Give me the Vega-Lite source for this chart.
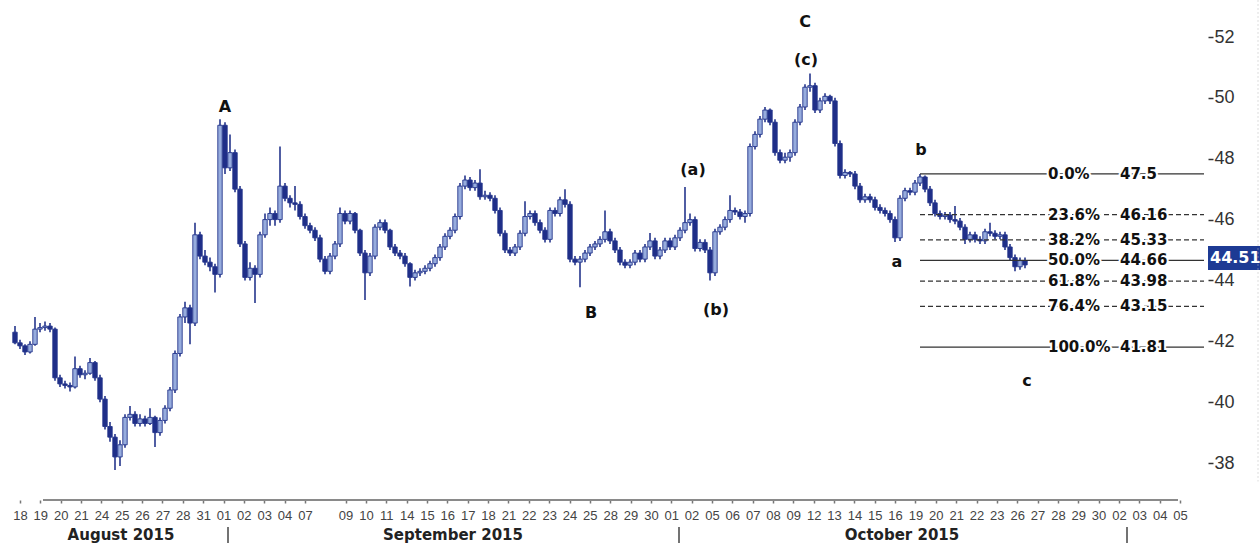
{
"$schema": "https://vega.github.io/schema/vega-lite/v6.json",
"width": 1208, "height": 500,
"autosize": {"type": "none"},
"padding": {"left": 0, "top": 0, "right": 52, "bottom": 43},
"background": "white",
"config": {"view": {"stroke": null}, "font": "Liberation Sans"},
"datasets": {
"candles": [
{"k":0,"o":42.3,"h":42.5,"l":41.9,"c":41.95},{"k":1,"o":41.95,"h":42.05,"l":41.75,"c":41.85},{"k":2,"o":41.85,"h":41.9,"l":41.55,"c":41.65},{"k":3,"o":41.65,"h":42.0,"l":41.6,"c":41.9},{"k":4,"o":41.9,"h":42.8,"l":41.85,"c":42.4},{"k":5,"o":42.4,"h":42.6,"l":42.3,"c":42.45},{"k":6,"o":42.45,"h":42.65,"l":42.35,"c":42.5},{"k":7,"o":42.5,"h":42.6,"l":42.3,"c":42.4},{"k":8,"o":42.4,"h":42.45,"l":40.7,"c":40.8},{"k":9,"o":40.8,"h":40.9,"l":40.5,"c":40.6},
{"k":10,"o":40.6,"h":40.7,"l":40.45,"c":40.55},{"k":11,"o":40.55,"h":40.65,"l":40.35,"c":40.5},{"k":12,"o":40.5,"h":41.5,"l":40.45,"c":41.1},{"k":13,"o":41.1,"h":41.2,"l":40.8,"c":40.9},{"k":14,"o":40.9,"h":41.05,"l":40.75,"c":40.95},{"k":15,"o":40.95,"h":41.45,"l":40.9,"c":41.3},{"k":16,"o":41.3,"h":41.35,"l":40.7,"c":40.8},{"k":17,"o":40.8,"h":40.9,"l":40.0,"c":40.1},{"k":18,"o":40.1,"h":40.2,"l":39.1,"c":39.2},{"k":19,"o":39.2,"h":39.35,"l":38.7,"c":38.85},
{"k":20,"o":38.85,"h":38.95,"l":37.77,"c":38.2},{"k":21,"o":38.2,"h":38.75,"l":37.9,"c":38.6},{"k":22,"o":38.6,"h":39.6,"l":38.5,"c":39.5},{"k":23,"o":39.5,"h":39.87,"l":39.4,"c":39.6},{"k":24,"o":39.6,"h":39.7,"l":39.2,"c":39.3},{"k":25,"o":39.3,"h":39.6,"l":39.2,"c":39.45},{"k":26,"o":39.45,"h":39.55,"l":39.2,"c":39.3},{"k":27,"o":39.3,"h":39.8,"l":39.25,"c":39.5},{"k":28,"o":39.5,"h":39.55,"l":38.53,"c":39.0},{"k":29,"o":39.0,"h":39.5,"l":38.9,"c":39.4},
{"k":30,"o":39.4,"h":39.9,"l":39.3,"c":39.8},{"k":31,"o":39.8,"h":40.5,"l":39.7,"c":40.4},{"k":32,"o":40.4,"h":41.7,"l":40.3,"c":41.6},{"k":33,"o":41.6,"h":42.9,"l":41.5,"c":42.8},{"k":34,"o":42.8,"h":43.3,"l":42.6,"c":43.1},{"k":35,"o":43.1,"h":43.2,"l":41.9,"c":42.6},{"k":36,"o":42.6,"h":45.9,"l":42.5,"c":45.5},{"k":37,"o":45.5,"h":45.6,"l":44.7,"c":44.8},{"k":38,"o":44.8,"h":45.0,"l":44.5,"c":44.6},{"k":39,"o":44.6,"h":44.75,"l":44.3,"c":44.45},
{"k":40,"o":44.45,"h":44.55,"l":43.6,"c":44.2},{"k":41,"o":44.2,"h":49.3,"l":44.1,"c":49.1},{"k":42,"o":49.1,"h":49.2,"l":47.5,"c":47.7},{"k":43,"o":47.7,"h":48.8,"l":47.6,"c":48.2},{"k":44,"o":48.2,"h":48.3,"l":46.9,"c":47.0},{"k":45,"o":47.0,"h":47.1,"l":45.1,"c":45.2},{"k":46,"o":45.2,"h":45.3,"l":44.0,"c":44.1},{"k":47,"o":44.1,"h":44.6,"l":44.0,"c":44.4},{"k":48,"o":44.4,"h":44.5,"l":43.26,"c":44.2},{"k":49,"o":44.2,"h":45.6,"l":44.1,"c":45.5},
{"k":50,"o":45.5,"h":46.2,"l":45.4,"c":46.0},{"k":51,"o":46.0,"h":46.4,"l":45.8,"c":46.2},{"k":52,"o":46.2,"h":46.3,"l":45.8,"c":46.0},{"k":53,"o":46.0,"h":48.4,"l":45.9,"c":47.1},{"k":54,"o":47.1,"h":47.2,"l":46.6,"c":46.7},{"k":55,"o":46.7,"h":46.8,"l":46.4,"c":46.55},{"k":56,"o":46.55,"h":47.1,"l":46.3,"c":46.5},{"k":57,"o":46.5,"h":46.6,"l":46.0,"c":46.1},{"k":58,"o":46.1,"h":46.2,"l":45.7,"c":45.8},{"k":59,"o":45.8,"h":45.9,"l":45.55,"c":45.65},
{"k":60,"o":45.65,"h":45.75,"l":45.3,"c":45.4},{"k":61,"o":45.4,"h":45.5,"l":44.6,"c":44.7},{"k":62,"o":44.7,"h":44.8,"l":44.2,"c":44.3},{"k":63,"o":44.3,"h":44.9,"l":44.2,"c":44.8},{"k":64,"o":44.8,"h":45.3,"l":44.7,"c":45.2},{"k":65,"o":45.2,"h":46.4,"l":45.1,"c":46.2},{"k":66,"o":46.2,"h":46.3,"l":45.85,"c":45.95},{"k":67,"o":45.95,"h":46.3,"l":45.85,"c":46.2},{"k":68,"o":46.2,"h":46.25,"l":45.55,"c":45.65},{"k":69,"o":45.65,"h":45.7,"l":44.8,"c":44.9},
{"k":70,"o":44.9,"h":45.0,"l":43.36,"c":44.25},{"k":71,"o":44.25,"h":44.9,"l":44.15,"c":44.8},{"k":72,"o":44.8,"h":45.85,"l":44.7,"c":45.75},{"k":73,"o":45.75,"h":46.0,"l":45.65,"c":45.9},{"k":74,"o":45.9,"h":46.0,"l":45.55,"c":45.65},{"k":75,"o":45.65,"h":45.7,"l":45.0,"c":45.1},{"k":76,"o":45.1,"h":45.2,"l":44.8,"c":44.9},{"k":77,"o":44.9,"h":45.0,"l":44.7,"c":44.8},{"k":78,"o":44.8,"h":44.9,"l":44.45,"c":44.55},{"k":79,"o":44.55,"h":44.6,"l":43.8,"c":44.1},
{"k":80,"o":44.1,"h":44.35,"l":44.0,"c":44.25},{"k":81,"o":44.25,"h":44.4,"l":44.15,"c":44.3},{"k":82,"o":44.3,"h":44.5,"l":44.2,"c":44.4},{"k":83,"o":44.4,"h":44.65,"l":44.3,"c":44.55},{"k":84,"o":44.55,"h":44.85,"l":44.45,"c":44.75},{"k":85,"o":44.75,"h":45.2,"l":44.65,"c":45.1},{"k":86,"o":45.1,"h":45.55,"l":45.0,"c":45.45},{"k":87,"o":45.45,"h":45.75,"l":45.35,"c":45.65},{"k":88,"o":45.65,"h":46.2,"l":45.55,"c":46.1},{"k":89,"o":46.1,"h":47.2,"l":46.0,"c":47.1},
{"k":90,"o":47.1,"h":47.45,"l":47.0,"c":47.3},{"k":91,"o":47.3,"h":47.4,"l":46.95,"c":47.05},{"k":92,"o":47.05,"h":47.3,"l":46.95,"c":47.2},{"k":93,"o":47.2,"h":47.65,"l":46.65,"c":46.75},{"k":94,"o":46.75,"h":46.95,"l":46.65,"c":46.8},{"k":95,"o":46.8,"h":46.9,"l":46.6,"c":46.7},{"k":96,"o":46.7,"h":46.8,"l":46.2,"c":46.3},{"k":97,"o":46.3,"h":46.4,"l":45.45,"c":45.55},{"k":98,"o":45.55,"h":45.65,"l":44.9,"c":45.0},{"k":99,"o":45.0,"h":45.1,"l":44.8,"c":44.9},
{"k":100,"o":44.9,"h":45.2,"l":44.8,"c":45.1},{"k":101,"o":45.1,"h":45.65,"l":45.0,"c":45.55},{"k":102,"o":45.55,"h":46.6,"l":45.45,"c":46.1},{"k":103,"o":46.1,"h":46.3,"l":46.0,"c":46.2},{"k":104,"o":46.2,"h":46.3,"l":45.8,"c":45.9},{"k":105,"o":45.9,"h":46.0,"l":45.55,"c":45.65},{"k":106,"o":45.65,"h":45.75,"l":45.25,"c":45.35},{"k":107,"o":45.35,"h":46.4,"l":45.25,"c":46.3},{"k":108,"o":46.3,"h":46.4,"l":46.1,"c":46.2},{"k":109,"o":46.2,"h":46.75,"l":46.1,"c":46.65},
{"k":110,"o":46.65,"h":47.0,"l":46.4,"c":46.5},{"k":111,"o":46.5,"h":46.6,"l":44.6,"c":44.7},{"k":112,"o":44.7,"h":44.8,"l":44.5,"c":44.6},{"k":113,"o":44.6,"h":44.8,"l":43.78,"c":44.7},{"k":114,"o":44.7,"h":45.0,"l":44.6,"c":44.9},{"k":115,"o":44.9,"h":45.2,"l":44.8,"c":45.1},{"k":116,"o":45.1,"h":45.3,"l":45.0,"c":45.2},{"k":117,"o":45.2,"h":45.45,"l":45.1,"c":45.35},{"k":118,"o":45.35,"h":46.3,"l":45.25,"c":45.6},{"k":119,"o":45.6,"h":45.7,"l":45.2,"c":45.3},
{"k":120,"o":45.3,"h":45.4,"l":44.9,"c":45.0},{"k":121,"o":45.0,"h":45.1,"l":44.5,"c":44.6},{"k":122,"o":44.6,"h":44.7,"l":44.4,"c":44.5},{"k":123,"o":44.5,"h":44.7,"l":44.4,"c":44.6},{"k":124,"o":44.6,"h":45.0,"l":44.5,"c":44.9},{"k":125,"o":44.9,"h":45.0,"l":44.6,"c":44.7},{"k":126,"o":44.7,"h":45.2,"l":44.6,"c":45.1},{"k":127,"o":45.1,"h":45.56,"l":45.0,"c":45.3},{"k":128,"o":45.3,"h":45.4,"l":44.7,"c":44.8},{"k":129,"o":44.8,"h":45.1,"l":44.7,"c":45.0},
{"k":130,"o":45.0,"h":45.4,"l":44.9,"c":45.3},{"k":131,"o":45.3,"h":45.4,"l":45.0,"c":45.1},{"k":132,"o":45.1,"h":45.5,"l":45.0,"c":45.4},{"k":133,"o":45.4,"h":45.75,"l":45.3,"c":45.65},{"k":134,"o":45.65,"h":47.07,"l":45.55,"c":45.9},{"k":135,"o":45.9,"h":46.2,"l":45.8,"c":46.0},{"k":136,"o":46.0,"h":46.1,"l":44.95,"c":45.05},{"k":137,"o":45.05,"h":45.35,"l":44.95,"c":45.25},{"k":138,"o":45.25,"h":45.35,"l":44.9,"c":45.0},{"k":139,"o":45.0,"h":45.1,"l":44.0,"c":44.25},
{"k":140,"o":44.25,"h":45.7,"l":44.15,"c":45.6},{"k":141,"o":45.6,"h":45.85,"l":45.5,"c":45.75},{"k":142,"o":45.75,"h":46.1,"l":45.65,"c":46.0},{"k":143,"o":46.0,"h":46.8,"l":45.9,"c":46.3},{"k":144,"o":46.3,"h":46.4,"l":46.15,"c":46.25},{"k":145,"o":46.25,"h":46.35,"l":46.0,"c":46.1},{"k":146,"o":46.1,"h":46.3,"l":45.9,"c":46.2},{"k":147,"o":46.2,"h":48.5,"l":46.1,"c":48.4},{"k":148,"o":48.4,"h":48.9,"l":48.3,"c":48.8},{"k":149,"o":48.8,"h":49.4,"l":48.7,"c":49.3},
{"k":150,"o":49.3,"h":49.7,"l":49.2,"c":49.6},{"k":151,"o":49.6,"h":49.65,"l":49.1,"c":49.2},{"k":152,"o":49.2,"h":49.3,"l":48.1,"c":48.2},{"k":153,"o":48.2,"h":48.3,"l":47.85,"c":47.95},{"k":154,"o":47.95,"h":48.2,"l":47.85,"c":48.05},{"k":155,"o":48.05,"h":48.3,"l":47.9,"c":48.2},{"k":156,"o":48.2,"h":49.3,"l":48.1,"c":49.2},{"k":157,"o":49.2,"h":49.8,"l":49.1,"c":49.7},{"k":158,"o":49.7,"h":50.45,"l":49.6,"c":50.35},{"k":159,"o":50.35,"h":50.8,"l":50.2,"c":50.4},
{"k":160,"o":50.4,"h":50.5,"l":49.5,"c":49.6},{"k":161,"o":49.6,"h":50.0,"l":49.5,"c":49.9},{"k":162,"o":49.9,"h":50.15,"l":49.8,"c":50.05},{"k":163,"o":50.05,"h":50.1,"l":49.8,"c":49.9},{"k":164,"o":49.9,"h":50.0,"l":48.4,"c":48.5},{"k":165,"o":48.5,"h":48.6,"l":47.35,"c":47.45},{"k":166,"o":47.45,"h":47.65,"l":47.35,"c":47.55},{"k":167,"o":47.55,"h":47.6,"l":47.4,"c":47.5},{"k":168,"o":47.5,"h":47.6,"l":47.0,"c":47.1},{"k":169,"o":47.1,"h":47.2,"l":46.55,"c":46.65},
{"k":170,"o":46.65,"h":46.85,"l":46.55,"c":46.75},{"k":171,"o":46.75,"h":46.85,"l":46.55,"c":46.65},{"k":172,"o":46.65,"h":46.75,"l":46.3,"c":46.4},{"k":173,"o":46.4,"h":46.5,"l":46.2,"c":46.3},{"k":174,"o":46.3,"h":46.4,"l":46.1,"c":46.2},{"k":175,"o":46.2,"h":46.3,"l":45.9,"c":46.0},{"k":176,"o":46.0,"h":46.1,"l":45.26,"c":45.4},{"k":177,"o":45.4,"h":46.8,"l":45.3,"c":46.7},{"k":178,"o":46.7,"h":47.05,"l":46.6,"c":46.95},{"k":179,"o":46.95,"h":47.05,"l":46.8,"c":46.9},
{"k":180,"o":46.9,"h":47.3,"l":46.8,"c":47.2},{"k":181,"o":47.2,"h":47.5,"l":47.1,"c":47.4},{"k":182,"o":47.4,"h":47.45,"l":46.9,"c":47.0},{"k":183,"o":47.0,"h":47.1,"l":46.45,"c":46.55},{"k":184,"o":46.55,"h":46.65,"l":46.1,"c":46.2},{"k":185,"o":46.2,"h":46.3,"l":46.0,"c":46.1},{"k":186,"o":46.1,"h":46.25,"l":46.0,"c":46.15},{"k":187,"o":46.15,"h":46.25,"l":45.9,"c":46.0},{"k":188,"o":46.0,"h":46.45,"l":45.85,"c":45.95},{"k":189,"o":45.95,"h":46.05,"l":45.65,"c":45.75},
{"k":190,"o":45.75,"h":45.85,"l":45.2,"c":45.35},{"k":191,"o":45.35,"h":45.6,"l":45.25,"c":45.5},{"k":192,"o":45.5,"h":45.6,"l":45.25,"c":45.35},{"k":193,"o":45.35,"h":45.45,"l":45.2,"c":45.3},{"k":194,"o":45.3,"h":45.7,"l":45.2,"c":45.6},{"k":195,"o":45.6,"h":45.9,"l":45.45,"c":45.55},{"k":196,"o":45.55,"h":45.65,"l":45.35,"c":45.45},{"k":197,"o":45.45,"h":45.6,"l":45.35,"c":45.5},{"k":198,"o":45.5,"h":45.6,"l":45.0,"c":45.1},{"k":199,"o":45.1,"h":45.2,"l":44.65,"c":44.75},
{"k":200,"o":44.75,"h":44.85,"l":44.3,"c":44.45},{"k":201,"o":44.45,"h":44.75,"l":44.35,"c":44.65},{"k":202,"o":44.65,"h":44.75,"l":44.4,"c":44.51}
],
"fib": [
{"p":0,"v":47.5,"pl":"0.0%","vl":"47.5"},
{"p":23.6,"v":46.16,"pl":"23.6%","vl":"46.16"},
{"p":38.2,"v":45.33,"pl":"38.2%","vl":"45.33"},
{"p":50,"v":44.66,"pl":"50.0%","vl":"44.66"},
{"p":61.8,"v":43.98,"pl":"61.8%","vl":"43.98"},
{"p":76.4,"v":43.15,"pl":"76.4%","vl":"43.15"},
{"p":100,"v":41.81,"pl":"100.0%","vl":"41.81"}
],
"notes": [
{"k":42,"v":49.7,"t":"A"},
{"k":135.6,"v":47.63,"t":"(a)"},
{"k":115.2,"v":42.93,"t":"B"},
{"k":140.2,"v":43.03,"t":"(b)"},
{"k":158,"v":52.49,"t":"C"},
{"k":158.2,"v":51.24,"t":"(c)"},
{"k":181.2,"v":48.29,"t":"b"},
{"k":176.4,"v":44.61,"t":"a"},
{"k":202.4,"v":40.7,"t":"c"}
],
"months": [
{"k":21.2,"m":"August 2015"},
{"k":87.6,"m":"September 2015"},
{"k":177.4,"m":"October 2015"}
],
"seps": [{"k":42.6},{"k":132.8},{"k":222.4}],
"last": [{"price":44.51}]
},
"resolve": {"axis": {"x": "independent", "y": "independent"}},
"layer": [
{"data": {"name": "candles"},
 "mark": {"type": "rule", "color": "#25358c", "strokeWidth": 1.6},
 "encoding": {
  "x": {"field": "k", "type": "quantitative", "scale": {"domain": [-3, 238.6], "nice": false, "zero": false, "padding": 0},
        "axis": {"orient": "bottom", "title": null, "values": [1,5.07,9.14,13.21,17.28,21.35,25.42,29.49,33.56,37.63,41.7,45.77,49.84,53.91,57.98,66.12,70.19,74.26,78.33,82.4,86.47,90.54,94.61,98.68,102.76,106.83,110.9,114.97,119.04,123.11,127.18,131.25,135.32,139.39,143.46,147.53,151.6,155.67,159.74,163.81,167.88,171.95,176.02,180.09,184.16,188.23,192.3,196.37,200.44,204.51,208.58,212.65,216.72,220.79,224.86,228.93,233.0],
        "labelExpr": "['18','19','20','21','24','25','26','27','28','31','01','02','03','04','07','','09','10','11','14','15','16','17','18','21','22','23','24','25','28','29','30','01','02','05','06','07','08','09','12','13','14','15','16','19','20','21','22','23','26','27','28','29','30','02','03','04','05'][round((datum.value - 1) / 4.0702)]",
        "domain": false, "grid": false, "tickSize": 3, "tickColor": "#777", "tickWidth": 1.5, "labelPadding": 6, "labelFontSize": 13, "labelColor": "#444", "labelFont": "Liberation Sans", "labelOverlap": false, "labelFlush": false, "labelBound": false}},
  "y": {"field": "l", "type": "quantitative", "scale": {"domain": [36.785, 53.216], "nice": false, "zero": false},
        "axis": {"orient": "right", "title": null, "values": [38,40,42,44,46,48,50,52], "domain": false, "grid": false, "tickSize": 5, "tickWidth": 1.5, "tickColor": "#333", "labelPadding": 1, "labelFontSize": 18, "labelColor": "#333", "labelFont": "Liberation Sans", "labelOverlap": false, "labelFlush": false, "labelBound": false}},
  "y2": {"field": "h"}}},
{"data": {"name": "candles"},
 "mark": {"type": "bar", "size": 4.4, "stroke": "#25358c", "strokeWidth": 0.9},
 "encoding": {
  "x": {"field": "k", "type": "quantitative", "scale": {"domain": [-3, 238.6], "nice": false, "zero": false, "padding": 0}, "axis": null},
  "y": {"field": "o", "type": "quantitative", "scale": {"domain": [36.785, 53.216], "nice": false, "zero": false}, "axis": null},
  "y2": {"field": "c"},
  "fill": {"condition": {"test": "datum.c > datum.o", "value": "#97acdd"}, "value": "#1f2e88"}}},
{"data": {"name": "notes"},
 "mark": {"type": "text", "font": "DejaVu Sans", "fontWeight": "bold", "fontSize": 16, "color": "#111", "align": "center", "baseline": "middle"},
 "encoding": {
  "x": {"field": "k", "type": "quantitative", "scale": {"domain": [-3, 238.6], "nice": false, "zero": false, "padding": 0}, "axis": null},
  "y": {"field": "v", "type": "quantitative", "scale": {"domain": [36.785, 53.216], "nice": false, "zero": false}, "axis": null},
  "text": {"field": "t"}}},
{"data": {"name": "fib"},
 "mark": {"type": "rule", "color": "#333", "strokeWidth": 1.3},
 "encoding": {
  "x": {"datum": 181, "type": "quantitative", "scale": {"domain": [-3, 238.6], "nice": false, "zero": false, "padding": 0}, "axis": null},
  "x2": {"datum": 237.8},
  "y": {"field": "v", "type": "quantitative", "scale": {"domain": [36.785, 53.216], "nice": false, "zero": false}, "axis": null},
  "strokeDash": {"condition": {"test": "indexof([0,50,100], datum.p) >= 0", "value": [1, 0]}, "value": [5, 3]}}},
{"data": {"name": "fib"},
 "mark": {"type": "text", "font": "DejaVu Sans", "fontWeight": "bold", "fontSize": 15, "align": "left", "baseline": "middle", "fill": "white", "stroke": "white", "strokeWidth": 4},
 "encoding": {
  "x": {"datum": 206.6, "type": "quantitative", "scale": {"domain": [-3, 238.6], "nice": false, "zero": false, "padding": 0}, "axis": null},
  "y": {"field": "v", "type": "quantitative", "scale": {"domain": [36.785, 53.216], "nice": false, "zero": false}, "axis": null},
  "text": {"field": "pl"}}},
{"data": {"name": "fib"},
 "mark": {"type": "text", "font": "DejaVu Sans", "fontWeight": "bold", "fontSize": 15, "align": "left", "baseline": "middle", "fill": "white", "stroke": "white", "strokeWidth": 4},
 "encoding": {
  "x": {"datum": 221.0, "type": "quantitative", "scale": {"domain": [-3, 238.6], "nice": false, "zero": false, "padding": 0}, "axis": null},
  "y": {"field": "v", "type": "quantitative", "scale": {"domain": [36.785, 53.216], "nice": false, "zero": false}, "axis": null},
  "text": {"field": "vl"}}},
{"data": {"name": "fib"},
 "mark": {"type": "text", "font": "DejaVu Sans", "fontWeight": "bold", "fontSize": 15, "align": "left", "baseline": "middle", "fill": "#111"},
 "encoding": {
  "x": {"datum": 206.6, "type": "quantitative", "scale": {"domain": [-3, 238.6], "nice": false, "zero": false, "padding": 0}, "axis": null},
  "y": {"field": "v", "type": "quantitative", "scale": {"domain": [36.785, 53.216], "nice": false, "zero": false}, "axis": null},
  "text": {"field": "pl"}}},
{"data": {"name": "fib"},
 "mark": {"type": "text", "font": "DejaVu Sans", "fontWeight": "bold", "fontSize": 15, "align": "left", "baseline": "middle", "fill": "#111"},
 "encoding": {
  "x": {"datum": 221.0, "type": "quantitative", "scale": {"domain": [-3, 238.6], "nice": false, "zero": false, "padding": 0}, "axis": null},
  "y": {"field": "v", "type": "quantitative", "scale": {"domain": [36.785, 53.216], "nice": false, "zero": false}, "axis": null},
  "text": {"field": "vl"}}},
{"data": {"name": "last"},
 "mark": {"type": "rect", "fill": "#1d3a94"},
 "encoding": {
  "x": {"datum": 238.6, "type": "quantitative", "scale": {"domain": [-3, 238.6], "nice": false, "zero": false, "padding": 0}, "axis": null},
  "x2": {"datum": 249.4},
  "y": {"datum": 45.13, "type": "quantitative", "scale": {"domain": [36.785, 53.216], "nice": false, "zero": false}, "axis": null},
  "y2": {"datum": 44.34}}},
{"data": {"name": "last"},
 "mark": {"type": "text", "font": "DejaVu Sans", "fontWeight": "bold", "fontSize": 16, "align": "left", "baseline": "middle", "fill": "white"},
 "encoding": {
  "x": {"datum": 239.0, "type": "quantitative", "scale": {"domain": [-3, 238.6], "nice": false, "zero": false, "padding": 0}, "axis": null},
  "y": {"datum": 44.74, "type": "quantitative", "scale": {"domain": [36.785, 53.216], "nice": false, "zero": false}, "axis": null},
  "text": {"field": "price", "type": "quantitative", "format": ".2f"}}},
{"data": {"values": [{}]},
 "mark": {"type": "rule", "color": "#8a8a8a", "strokeWidth": 2},
 "encoding": {
  "x": {"datum": 5.6, "type": "quantitative", "scale": {"domain": [-3, 238.6], "nice": false, "zero": false, "padding": 0}, "axis": null},
  "x2": {"datum": 232.6},
  "y": {"datum": 36.785, "type": "quantitative", "scale": {"domain": [36.785, 53.216], "nice": false, "zero": false}, "axis": null}}},
{"data": {"values": [{}]},
 "mark": {"type": "rule", "color": "#bbbbbb", "strokeWidth": 1, "strokeDash": [1, 3]},
 "encoding": {
  "x": {"datum": 248.6, "type": "quantitative", "scale": {"domain": [-3, 238.6], "nice": false, "zero": false, "padding": 0}, "axis": null},
  "y": {"datum": 53.2, "type": "quantitative", "scale": {"domain": [36.785, 53.216], "nice": false, "zero": false}, "axis": null},
  "y2": {"datum": 37.4}}},
{"data": {"name": "months"},
 "mark": {"type": "text", "font": "DejaVu Sans", "fontWeight": "bold", "fontSize": 15, "align": "center", "baseline": "middle", "fill": "#222"},
 "encoding": {
  "x": {"field": "k", "type": "quantitative", "scale": {"domain": [-3, 238.6], "nice": false, "zero": false, "padding": 0}, "axis": null},
  "y": {"datum": 35.63, "type": "quantitative", "scale": {"domain": [36.785, 53.216], "nice": false, "zero": false}, "axis": null},
  "text": {"field": "m"}}},
{"data": {"name": "seps"},
 "mark": {"type": "rule", "color": "#444", "strokeWidth": 1.5},
 "encoding": {
  "x": {"field": "k", "type": "quantitative", "scale": {"domain": [-3, 238.6], "nice": false, "zero": false, "padding": 0}, "axis": null},
  "y": {"datum": 35.9, "type": "quantitative", "scale": {"domain": [36.785, 53.216], "nice": false, "zero": false}, "axis": null},
  "y2": {"datum": 35.37}}}
]
}
